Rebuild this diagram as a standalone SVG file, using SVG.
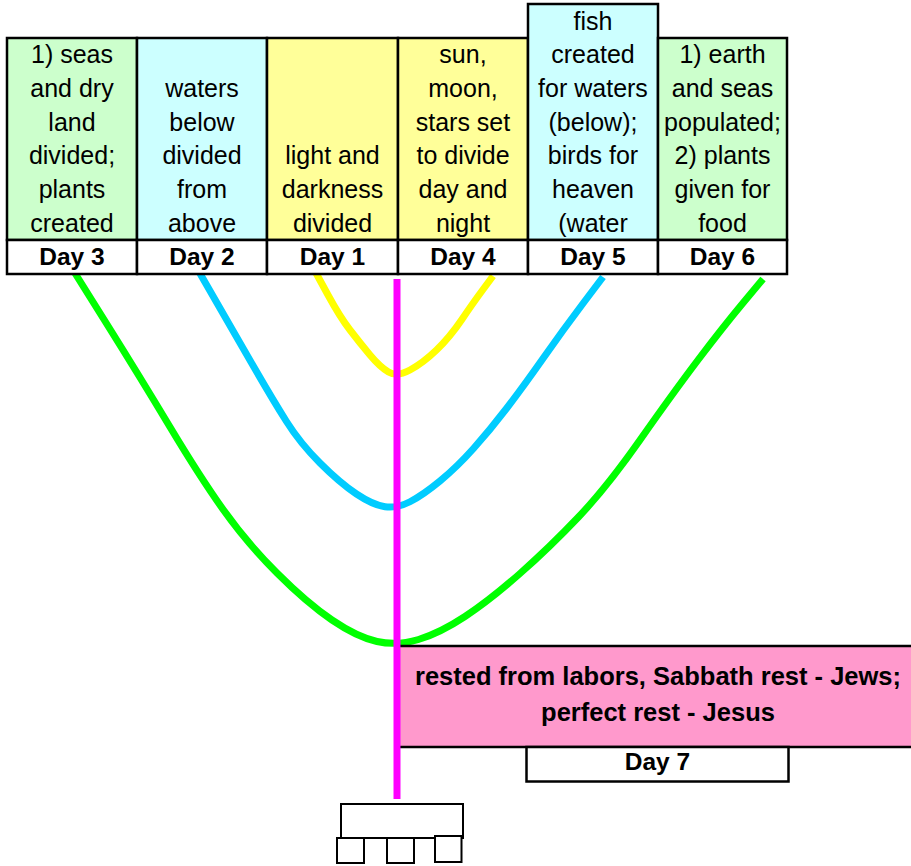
<svg xmlns="http://www.w3.org/2000/svg" width="911" height="866" viewBox="0 0 911 866">
<style>
.t{font-family:"Liberation Sans",Arial,sans-serif;font-size:25px;fill:#000;text-anchor:middle}
.d{font-family:"Liberation Sans",Arial,sans-serif;font-size:24.5px;font-weight:bold;fill:#000;text-anchor:middle}
.p{font-family:"Liberation Sans",Arial,sans-serif;font-size:25.5px;font-weight:bold;fill:#000;text-anchor:middle}
.cell{stroke:#000;stroke-width:2.5}
.day{fill:#fff;stroke:#000;stroke-width:2.5}
.g{fill:#CCFFCC}.c{fill:#CCFFFF}.y{fill:#FFFF99}
.curve{fill:none;stroke-width:7;stroke-linecap:butt;stroke-linejoin:round}
.box{fill:#fff;stroke:#000;stroke-width:2}
</style>
<g id="connectors">
<path class="curve" stroke="#00FF00" d="M73,270 L106.5,323.5 Q140,377 170,427 Q200,477 223.5,510 Q247,543 277,573 Q307,603 332,620 Q357,637 377,641.5 Q397,646 418.5,639.5 Q440,633 465,616.5 Q490,600 520,573.5 Q550,547 578.5,517 Q607,487 640,440 Q673,393 698,360 Q723,327 743,303 L763,279"/>
<path class="curve" stroke="#00CCFF" d="M198,270 L219,306.5 Q240,343 256.5,371.5 Q273,400 286.5,421.5 Q300,443 320,463 Q340,483 356.5,494 Q373,505 385,506.75 Q397,508.5 410,501.75 Q423,495 440,481 Q457,467 473.5,448.5 Q490,430 506.5,408.5 Q523,387 543,358.5 Q563,330 583,303.5 L603,277"/>
<path class="curve" stroke="#FFFF00" d="M316,273 L328,295 Q340,317 350,330 Q360,343 370,355 Q380,367 388.5,372 Q397,377 410,370 Q423,363 436.5,350 Q450,337 461.5,320 Q473,303 483,289.5 L493,276"/>
</g>
<g id="day7">
<rect x="397" y="646" width="520" height="101" fill="#FF99CC" stroke="#000" stroke-width="2.5"/>
<text class="p" x="658" y="685">rested from labors, Sabbath rest - Jews;</text>
<text class="p" x="658" y="721">perfect rest - Jesus</text>
<rect class="day" x="526.5" y="747" width="262" height="34.5"/>
<text class="d" x="657.5" y="770">Day 7</text>
</g>
<g id="stem">
<line x1="397" y1="279" x2="397" y2="799" stroke="#FF00FF" stroke-width="7"/>
</g>
<g id="day3">
<rect class="cell g" x="7" y="38" width="130" height="202"/>
<text class="t" x="72" y="63.3">1) seas</text>
<text class="t" x="72" y="97">and dry</text>
<text class="t" x="72" y="130.7">land</text>
<text class="t" x="72" y="164.4">divided;</text>
<text class="t" x="72" y="198">plants</text>
<text class="t" x="72" y="231.7">created</text>
<rect class="day" x="7" y="240" width="130" height="34"/>
<text class="d" x="72" y="264.5">Day 3</text>
</g>
<g id="day2">
<rect class="cell c" x="137" y="38" width="130" height="202"/>
<text class="t" x="202" y="97">waters</text>
<text class="t" x="202" y="130.7">below</text>
<text class="t" x="202" y="164.4">divided</text>
<text class="t" x="202" y="198">from</text>
<text class="t" x="202" y="231.7">above</text>
<rect class="day" x="137" y="240" width="130" height="34"/>
<text class="d" x="202" y="264.5">Day 2</text>
</g>
<g id="day1">
<rect class="cell y" x="267" y="38" width="131" height="202"/>
<text class="t" x="332.5" y="164.4">light and</text>
<text class="t" x="332.5" y="198">darkness</text>
<text class="t" x="332.5" y="231.7">divided</text>
<rect class="day" x="267" y="240" width="131" height="34"/>
<text class="d" x="332.5" y="264.5">Day 1</text>
</g>
<g id="day4">
<rect class="cell y" x="398" y="38" width="130" height="202"/>
<text class="t" x="463" y="63.3">sun,</text>
<text class="t" x="463" y="97">moon,</text>
<text class="t" x="463" y="130.7">stars set</text>
<text class="t" x="463" y="164.4">to divide</text>
<text class="t" x="463" y="198">day and</text>
<text class="t" x="463" y="231.7">night</text>
<rect class="day" x="398" y="240" width="130" height="34"/>
<text class="d" x="463" y="264.5">Day 4</text>
</g>
<g id="day5">
<rect class="cell c" x="528" y="4" width="130" height="236"/>
<text class="t" x="593" y="29.6">fish</text>
<text class="t" x="593" y="63.3">created</text>
<text class="t" x="593" y="97">for waters</text>
<text class="t" x="593" y="130.7">(below);</text>
<text class="t" x="593" y="164.4">birds for</text>
<text class="t" x="593" y="198">heaven</text>
<text class="t" x="593" y="231.7">(water</text>
<rect class="day" x="528" y="240" width="130" height="34"/>
<text class="d" x="593" y="264.5">Day 5</text>
</g>
<g id="day6">
<rect class="cell g" x="658" y="38" width="129" height="202"/>
<text class="t" x="722.5" y="63.3">1) earth</text>
<text class="t" x="722.5" y="97">and seas</text>
<text class="t" x="722.5" y="130.7">populated;</text>
<text class="t" x="722.5" y="164.4">2) plants</text>
<text class="t" x="722.5" y="198">given for</text>
<text class="t" x="722.5" y="231.7">food</text>
<rect class="day" x="658" y="240" width="129" height="34"/>
<text class="d" x="722.5" y="264.5">Day 6</text>
</g>
<g id="base">
<rect class="box" x="341" y="804" width="122" height="34"/>
<rect class="box" x="337" y="838" width="27" height="25"/>
<rect class="box" x="387" y="838" width="27" height="25"/>
<rect class="box" x="435" y="836" width="26.5" height="26"/>
</g>
</svg>
